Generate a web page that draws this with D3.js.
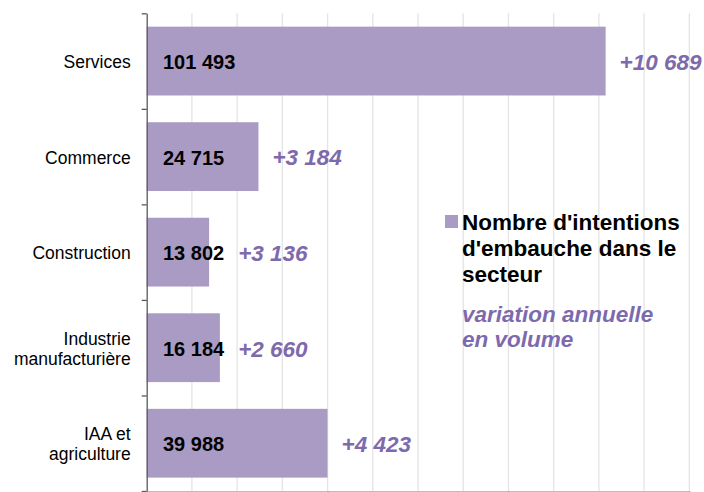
<!DOCTYPE html>
<html>
<head>
<meta charset="utf-8">
<script src="https://cdn.jsdelivr.net/npm/d3@7"></script>
<style>
  body { margin: 0; background: #fff; }
  svg { display: block; font-family: "Liberation Sans", Arial, sans-serif; }
</style>
</head>
<body>
<svg id="chart" width="704" height="492"></svg>
<script>
// data
var categories = ["Services", "Commerce", "Construction", "Industrie manufacturière", "IAA et agriculture"]
var categoryLines = [["Services"], ["Commerce"], ["Construction"], ["Industrie", "manufacturière"], ["IAA et", "agriculture"]]
var hires = [101493, 24715, 13802, 16184, 39988]
var variations = [10689, 3184, 3136, 2660, 4423]
var legendMain = ["Nombre d'intentions", "d'embauche dans le", "secteur"]
var legendVar = ["variation annuelle", "en volume"]

var BAR_COLOR = "#a99bc3"
var VAR_COLOR = "#7d6aad"

var svg = d3.select("#chart")
var fr = d3.formatLocale({decimal: ",", thousands: " ", grouping: [3], currency: ["", " €"]})
var fmt = fr.format(",")

var x = d3.scaleLinear().domain([0, 120000]).range([146.7, 689.3])
var y = d3.scaleBand().domain(categories).range([13.3, 491]).paddingInner(0.28).paddingOuter(0.14)

// gridlines every 10 000
svg.append("g")
  .selectAll("line")
  .data(d3.range(10000, 120001, 10000))
  .join("line")
  .attr("x1", d => x(d)).attr("x2", d => x(d))
  .attr("y1", 13.3).attr("y2", 491)
  .style("stroke", "#e4e4e4")
  .style("stroke-width", 1.3)

// bottom axis (mostly off the picture)
var xAxis = svg.append("g")
  .attr("transform", "translate(0,491)")
  .call(d3.axisBottom(x).tickValues([0, 40000, 80000, 120000]).tickFormat("").tickSize(5).tickSizeOuter(0))
xAxis.select(".domain").style("stroke", "#bdbdbd")
xAxis.selectAll(".tick line").style("stroke", "#9a9a9a")

// bars
svg.append("g")
  .selectAll("rect")
  .data(hires)
  .join("rect")
  .attr("x", x(0))
  .attr("y", (d, i) => y(categories[i]))
  .attr("width", d => x(d) - x(0))
  .attr("height", y.bandwidth())
  .style("fill", BAR_COLOR)

// left axis with ticks between the categories
var bounds = d3.scaleLinear().domain([0, categories.length]).range([13.3, 491])
var yAxis = svg.append("g")
  .attr("transform", "translate(" + x(0) + ",0)")
  .call(d3.axisLeft(bounds).tickValues(d3.range(0, categories.length + 1)).tickFormat("").tickSize(5).tickSizeOuter(0))
yAxis.selectAll(".domain, .tick line").style("stroke", "#595959").style("stroke-width", 1.3)

// category labels
var catLabels = svg.append("g")
  .selectAll("text")
  .data(categoryLines)
  .join("text")
  .attr("text-anchor", "end")
  .style("font-size", "17.5px")
  .style("fill", "#000")
catLabels.each(function(lines, i) {
  var cy = y(categories[i]) + y.bandwidth() / 2
  var t = d3.select(this)
  lines.forEach(function(s, k) {
    t.append("tspan")
      .attr("x", 130.7)
      .attr("y", cy + (k - (lines.length - 1) / 2) * 20 + 1)
      .attr("dy", "0.35em")
      .text(s)
  })
})

// value labels inside bars
var valueLabels = svg.append("g")
  .selectAll("text")
  .data(hires)
  .join("text")
  .attr("x", x(0) + 16.3)
  .attr("y", (d, i) => y(categories[i]) + y.bandwidth() / 2 + 1)
  .attr("dy", "0.35em")
  .style("font-size", "20px")
  .style("font-weight", "bold")
  .style("fill", "#000")
  .text(d => fmt(d))

// annual variation labels
var ends = []
valueLabels.each(function(d) { ends.push(x(0) + 16.3 + this.getComputedTextLength()) })

svg.append("g")
  .selectAll("text")
  .data(variations)
  .join("text")
  .attr("x", (d, i) => Math.max(x(hires[i]), ends[i]) + 14)
  .attr("y", (d, i) => y(categories[i]) + y.bandwidth() / 2 + 1)
  .attr("dy", "0.35em")
  .style("font-size", "22.5px")
  .style("font-weight", "bold")
  .style("font-style", "italic")
  .style("fill", VAR_COLOR)
  .text(d => "+" + fmt(d))

// legend
var legend = svg.append("g")
legend.append("rect")
  .attr("x", 445).attr("y", 215)
  .attr("width", 13).attr("height", 13)
  .style("fill", BAR_COLOR)
legend.append("g")
  .selectAll("text")
  .data(legendMain)
  .join("text")
  .attr("x", 462)
  .attr("y", (d, i) => 230 + i * 26)
  .style("font-size", "22.5px")
  .style("font-weight", "bold")
  .style("fill", "#000")
  .text(d => d)
legend.append("g")
  .selectAll("text")
  .data(legendVar)
  .join("text")
  .attr("x", 462)
  .attr("y", (d, i) => 321.5 + i * 25.5)
  .style("font-size", "22.5px")
  .style("font-weight", "bold")
  .style("font-style", "italic")
  .style("fill", VAR_COLOR)
  .text(d => d)
</script>
</body>
</html>
